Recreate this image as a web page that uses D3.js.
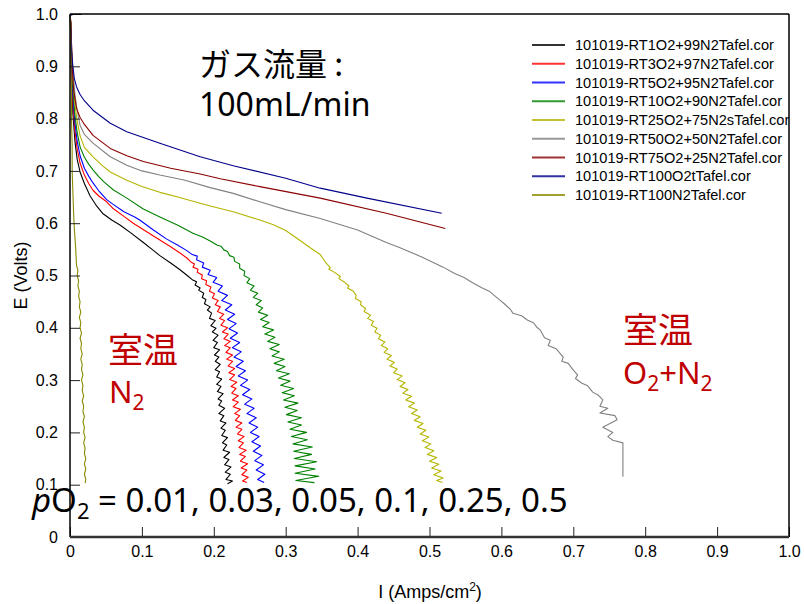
<!DOCTYPE html>
<html>
<head>
<meta charset="utf-8">
<script src="https://cdn.jsdelivr.net/npm/d3@7"></script>
<style>
  body { margin: 0; background: #fff; }
  svg { display: block; }
</style>
</head>
<body>
<div id="chart"></div>
<script>
// legend names, in drawing order
var seriesNames = [
  "101019-RT1O2+99N2Tafel.cor",
  "101019-RT3O2+97N2Tafel.cor",
  "101019-RT5O2+95N2Tafel.cor",
  "101019-RT10O2+90N2Tafel.cor",
  "101019-RT25O2+75N2sTafel.cor",
  "101019-RT50O2+50N2Tafel.cor",
  "101019-RT75O2+25N2Tafel.cor",
  "101019-RT100O2tTafel.cor",
  "101019-RT100N2Tafel.cor"
];
var seriesColors = ["#000000", "#ff0000", "#0000ff", "#008000", "#b4b400", "#808080", "#8b0000", "#00008b", "#8a8a00"];

var xTickLabels = ["0", "0.1", "0.2", "0.3", "0.4", "0.5", "0.6", "0.7", "0.8", "0.9", "1.0"];
var yTickLabels = ["0", "0.1", "0.2", "0.3", "0.4", "0.5", "0.6", "0.7", "0.8", "0.9", "1.0"];

// [I (A/cm2), E (V)]
var rt1 = [[0.001,0.985],[0.002,0.9],[0.004,0.81],[0.007,0.755],[0.010,0.722],[0.014,0.698],[0.020,0.676],[0.028,0.652],[0.037,0.633],[0.046,0.618],[0.058,0.606],[0.070,0.596],[0.085,0.581],[0.102,0.563],[0.115,0.549],[0.125,0.538],[0.140,0.524],[0.153,0.511],[0.163,0.500],
  [0.170,0.492],[0.176,0.488],[0.174,0.482],[0.181,0.476],[0.179,0.472],[0.186,0.466],[0.184,0.458],[0.189,0.454],[0.187,0.446],[0.195,0.440],[0.191,0.434],[0.197,0.428],[0.194,0.418],[0.202,0.414],[0.196,0.404],[0.203,0.399],[0.198,0.392],[0.206,0.386],[0.199,0.376],[0.205,0.372],[0.200,0.362],[0.208,0.358],[0.201,0.348],[0.207,0.344],[0.202,0.336],[0.209,0.330],[0.202,0.320],[0.208,0.316],[0.204,0.306],[0.211,0.302],[0.204,0.292],[0.210,0.288],[0.205,0.278],[0.213,0.274],[0.206,0.264],[0.211,0.260],[0.207,0.252],[0.215,0.246],[0.207,0.236],[0.214,0.232],[0.209,0.222],[0.217,0.218],[0.210,0.208],[0.216,0.204],[0.211,0.194],[0.219,0.190],[0.212,0.180],[0.218,0.176],[0.213,0.166],[0.222,0.162],[0.214,0.152],[0.221,0.148],[0.215,0.138],[0.224,0.134],[0.216,0.124],[0.223,0.120],[0.217,0.110],[0.226,0.107],[0.219,0.102]];

var rt3 = [[0.001,0.985],[0.002,0.91],[0.004,0.83],[0.007,0.775],[0.010,0.742],[0.014,0.715],[0.020,0.692],[0.026,0.676],[0.032,0.663],[0.040,0.652],[0.051,0.641],[0.060,0.628],[0.075,0.613],[0.088,0.600],[0.105,0.585],[0.125,0.568],[0.140,0.555],[0.153,0.543],[0.163,0.533],
  [0.168,0.526],[0.173,0.522],[0.171,0.516],[0.178,0.512],[0.177,0.506],[0.184,0.501],[0.183,0.494],[0.190,0.490],[0.189,0.483],[0.196,0.478],[0.194,0.470],[0.201,0.465],[0.198,0.457],[0.206,0.452],[0.202,0.444],[0.209,0.440],[0.205,0.431],[0.214,0.426],[0.208,0.418],[0.215,0.414],[0.210,0.405],[0.219,0.400],[0.212,0.392],[0.220,0.388],[0.214,0.379],[0.223,0.374],[0.215,0.366],[0.223,0.362],[0.217,0.353],[0.226,0.348],[0.218,0.340],[0.226,0.336],[0.220,0.327],[0.229,0.322],[0.221,0.314],[0.229,0.310],[0.222,0.301],[0.232,0.296],[0.224,0.288],[0.231,0.284],[0.225,0.275],[0.234,0.270],[0.226,0.262],[0.234,0.258],[0.227,0.249],[0.237,0.244],[0.229,0.236],[0.236,0.232],[0.230,0.223],[0.239,0.218],[0.231,0.210],[0.239,0.206],[0.233,0.197],[0.242,0.192],[0.234,0.184],[0.241,0.180],[0.235,0.171],[0.245,0.166],[0.236,0.158],[0.244,0.154],[0.237,0.145],[0.247,0.140],[0.238,0.132],[0.246,0.128],[0.239,0.119],[0.248,0.114],[0.240,0.107],[0.246,0.104]];

var rt5 = [[0.001,0.985],[0.002,0.92],[0.004,0.845],[0.007,0.79],[0.010,0.757],[0.014,0.729],[0.020,0.705],[0.026,0.690],[0.032,0.677],[0.040,0.662],[0.051,0.645],[0.060,0.636],[0.075,0.622],[0.090,0.612],[0.097,0.606],[0.115,0.588],[0.134,0.570],[0.150,0.558],[0.162,0.548],
  [0.170,0.540],[0.177,0.537],[0.176,0.530],[0.186,0.524],[0.184,0.516],[0.195,0.510],[0.192,0.502],[0.204,0.496],[0.199,0.487],[0.212,0.480],[0.206,0.470],[0.219,0.462],[0.211,0.452],[0.225,0.444],[0.216,0.434],[0.229,0.426],[0.219,0.416],[0.231,0.408],[0.221,0.398],[0.233,0.390],[0.223,0.380],[0.236,0.372],[0.226,0.362],[0.238,0.354],[0.228,0.344],[0.241,0.336],[0.231,0.326],[0.244,0.318],[0.234,0.308],[0.247,0.300],[0.237,0.290],[0.250,0.282],[0.240,0.272],[0.253,0.264],[0.243,0.254],[0.256,0.246],[0.246,0.236],[0.259,0.228],[0.249,0.218],[0.261,0.210],[0.251,0.200],[0.263,0.192],[0.253,0.182],[0.265,0.174],[0.255,0.164],[0.267,0.156],[0.257,0.146],[0.269,0.138],[0.259,0.128],[0.271,0.120],[0.261,0.110],[0.270,0.104]];

var rt10 = [[0.001,0.985],[0.002,0.93],[0.004,0.86],[0.007,0.805],[0.010,0.773],[0.014,0.746],[0.020,0.726],[0.026,0.713],[0.032,0.702],[0.040,0.689],[0.048,0.678],[0.060,0.664],[0.079,0.648],[0.102,0.627],[0.125,0.612],[0.150,0.596],[0.171,0.581],[0.185,0.573],[0.195,0.566],
  [0.205,0.558],[0.210,0.556],[0.214,0.549],[0.219,0.546],[0.222,0.538],[0.228,0.535],[0.229,0.527],[0.236,0.522],[0.236,0.514],[0.243,0.508],[0.242,0.500],[0.250,0.494],[0.246,0.486],[0.256,0.480],[0.251,0.472],[0.261,0.466],[0.255,0.458],[0.266,0.452],[0.259,0.444],[0.268,0.438],[0.262,0.430],[0.275,0.424],[0.265,0.416],[0.277,0.410],[0.268,0.402],[0.283,0.396],[0.271,0.388],[0.285,0.382],[0.275,0.374],[0.291,0.368],[0.278,0.360],[0.291,0.354],[0.281,0.346],[0.298,0.340],[0.284,0.332],[0.299,0.326],[0.287,0.318],[0.305,0.312],[0.290,0.304],[0.306,0.298],[0.293,0.290],[0.311,0.284],[0.295,0.276],[0.312,0.270],[0.297,0.262],[0.317,0.256],[0.299,0.248],[0.316,0.242],[0.301,0.234],[0.322,0.228],[0.303,0.220],[0.322,0.214],[0.306,0.206],[0.329,0.200],[0.308,0.192],[0.330,0.186],[0.310,0.178],[0.337,0.172],[0.311,0.164],[0.336,0.158],[0.312,0.150],[0.343,0.144],[0.313,0.136],[0.341,0.130],[0.313,0.122],[0.346,0.116],[0.314,0.108],[0.340,0.104]];

var rt25 = [[0.001,0.985],[0.002,0.94],[0.004,0.88],[0.007,0.825],[0.010,0.795],[0.014,0.767],[0.020,0.745],[0.032,0.727],[0.045,0.710],[0.056,0.698],[0.079,0.682],[0.100,0.670],[0.125,0.659],[0.150,0.650],[0.181,0.638],[0.195,0.633],[0.227,0.622],[0.264,0.606],[0.283,0.597],[0.300,0.586],[0.320,0.567],[0.335,0.552],[0.348,0.540],
  [0.352,0.532],[0.356,0.524],[0.362,0.515],[0.360,0.512],[0.368,0.506],[0.376,0.498],[0.374,0.494],[0.382,0.487],[0.388,0.480],[0.386,0.476],[0.394,0.470],[0.398,0.462],[0.397,0.456],[0.405,0.450],[0.404,0.444],[0.411,0.437],[0.409,0.431],[0.418,0.424],[0.414,0.418],[0.422,0.412],[0.419,0.405],[0.427,0.399],[0.424,0.392],[0.432,0.386],[0.429,0.379],[0.438,0.373],[0.433,0.366],[0.442,0.360],[0.437,0.353],[0.447,0.347],[0.441,0.340],[0.451,0.334],[0.445,0.327],[0.455,0.321],[0.450,0.314],[0.462,0.308],[0.455,0.301],[0.466,0.295],[0.459,0.288],[0.470,0.282],[0.463,0.275],[0.475,0.269],[0.467,0.262],[0.479,0.256],[0.471,0.249],[0.483,0.243],[0.475,0.236],[0.487,0.230],[0.479,0.223],[0.491,0.217],[0.483,0.210],[0.495,0.204],[0.487,0.197],[0.499,0.191],[0.490,0.184],[0.502,0.178],[0.494,0.171],[0.506,0.165],[0.497,0.158],[0.510,0.152],[0.500,0.145],[0.513,0.139],[0.503,0.132],[0.516,0.126],[0.506,0.119],[0.519,0.113],[0.510,0.108],[0.518,0.104]];

var rt50 = [[0.001,0.985],[0.002,0.945],[0.004,0.89],[0.007,0.845],[0.010,0.815],[0.014,0.787],[0.020,0.770],[0.032,0.753],[0.056,0.727],[0.079,0.711],[0.100,0.700],[0.125,0.692],[0.160,0.682],[0.195,0.668],[0.227,0.657],[0.264,0.641],[0.300,0.626],[0.348,0.609],[0.400,0.587],[0.440,0.563],[0.459,0.553],[0.490,0.535],[0.519,0.516],[0.535,0.504],[0.548,0.496],[0.560,0.486],[0.572,0.477],[0.583,0.470],[0.590,0.462],[0.598,0.453],[0.604,0.446],[0.612,0.436],[0.616,0.428],[0.628,0.423],[0.636,0.415],[0.645,0.409],[0.650,0.400],[0.654,0.396],[0.660,0.381],[0.668,0.376],[0.665,0.366],[0.676,0.360],[0.686,0.344],[0.684,0.336],[0.693,0.332],[0.700,0.319],[0.706,0.310],[0.703,0.303],[0.712,0.294],[0.720,0.289],[0.727,0.277],[0.735,0.271],[0.741,0.262],[0.737,0.250],[0.748,0.246],[0.737,0.237],[0.758,0.232],[0.761,0.224],[0.741,0.210],[0.755,0.200],[0.748,0.192],[0.755,0.185],[0.769,0.180],[0.769,0.115]];

var rt75 = [[0.001,0.99],[0.002,0.95],[0.003,0.90],[0.005,0.855],[0.009,0.820],[0.014,0.802],[0.019,0.791],[0.032,0.768],[0.056,0.743],[0.079,0.729],[0.102,0.718],[0.140,0.705],[0.181,0.694],[0.209,0.685],[0.264,0.670],[0.348,0.648],[0.440,0.619],[0.522,0.590]];

var rt100 = [[0.016,0.999],[0.004,0.999],[0.000,0.997],[0.001,0.97],[0.002,0.93],[0.004,0.90],[0.006,0.877],[0.009,0.861],[0.014,0.846],[0.019,0.836],[0.032,0.816],[0.056,0.791],[0.079,0.775],[0.125,0.753],[0.181,0.727],[0.227,0.710],[0.300,0.686],[0.348,0.667],[0.413,0.648],[0.517,0.619]];

var rtN2 = [[0.000,0.998],[0.001,0.95],[0.001,0.90],[0.002,0.85],[0.002,0.80],[0.003,0.75],[0.003,0.70],[0.004,0.66],[0.005,0.62],[0.006,0.59],[0.008,0.55],[0.009,0.52],
  [0.011,0.51],[0.010,0.50],[0.012,0.49],[0.011,0.48],[0.013,0.47],[0.012,0.46],[0.014,0.45],[0.013,0.44],[0.015,0.43],[0.013,0.42],[0.015,0.41],[0.014,0.40],[0.016,0.39],[0.014,0.38],[0.016,0.37],[0.015,0.36],[0.017,0.35],[0.015,0.34],[0.017,0.33],[0.016,0.32],[0.018,0.31],[0.016,0.30],[0.018,0.29],[0.017,0.28],[0.019,0.27],[0.017,0.26],[0.019,0.25],[0.018,0.24],[0.020,0.23],[0.018,0.22],[0.020,0.21],[0.019,0.20],[0.021,0.19],[0.019,0.18],[0.021,0.17],[0.020,0.16],[0.022,0.15],[0.020,0.14],[0.022,0.13],[0.020,0.12],[0.022,0.11],[0.021,0.103]];

var seriesData = [rt1, rt3, rt5, rt10, rt25, rt50, rt75, rt100, rtN2];

// set the dimensions of the graph
var width = 804,
    height = 604;

var svg = d3.select("#chart")
  .append("svg")
    .attr("width", width)
    .attr("height", height);

var x = d3.scaleLinear().domain([0, 1]).range([70, 789]);
var y = d3.scaleLinear().domain([0, 1]).range([537, 14]);

var tickFont = "'Liberation Sans', Arial, sans-serif";

// curves first, frame and axes go on top
var line = d3.line()
  .x(function(d) { return x(d[0]); })
  .y(function(d) { return y(d[1]); });

svg.append("g")
  .selectAll("path")
  .data(seriesData)
  .enter()
  .append("path")
    .attr("d", line)
    .attr("fill", "none")
    .attr("stroke", function(d, i) { return seriesColors[i]; })
    .attr("stroke-width", 1.1)
    .attr("stroke-linejoin", "round");

// x axis, ticks pointing inward
var xAxis = svg.append("g")
  .attr("transform", "translate(0," + y(0) + ")")
  .call(d3.axisBottom(x)
    .tickValues(d3.range(xTickLabels.length).map(function(i) { return i / 10; }))
    .tickFormat(function(d, i) { return xTickLabels[i]; })
    .tickSize(-10)
    .tickSizeOuter(0)
    .tickPadding(9));

xAxis.select(".domain").remove();
xAxis.selectAll("text")
  .style("font-family", tickFont)
  .style("font-size", "16px")
  .attr("fill", "#000");
xAxis.selectAll(".tick line").attr("stroke", "#222");

// y axis
var yAxis = svg.append("g")
  .attr("transform", "translate(" + x(0) + ",0)")
  .call(d3.axisLeft(y)
    .tickValues(d3.range(yTickLabels.length).map(function(i) { return i / 10; }))
    .tickFormat(function(d, i) { return yTickLabels[i]; })
    .tickSize(-10)
    .tickSizeOuter(0)
    .tickPadding(12));

yAxis.select(".domain").remove();
yAxis.selectAll("text")
  .style("font-family", tickFont)
  .style("font-size", "16px")
  .attr("fill", "#000");
yAxis.selectAll(".tick line").attr("stroke", "#222");

// frame
svg.append("line")
  .attr("x1", x(0)).attr("x2", x(1)).attr("y1", y(1)).attr("y2", y(1))
  .attr("stroke", "#000").attr("stroke-width", 1.5);
svg.append("line")
  .attr("x1", x(1)).attr("x2", x(1)).attr("y1", y(1)).attr("y2", y(0))
  .attr("stroke", "#000").attr("stroke-width", 1.5);
svg.append("line")
  .attr("x1", x(0)).attr("x2", x(0)).attr("y1", y(1)).attr("y2", y(0))
  .attr("stroke", "#000").attr("stroke-width", 1.5);
svg.append("line")
  .attr("x1", x(0)).attr("x2", x(1)).attr("y1", y(0)).attr("y2", y(0))
  .attr("stroke", "#333").attr("stroke-width", 2.5);

// axis titles
svg.append("text")
  .attr("transform", "translate(27," + y(0.5) + ") rotate(-90)")
  .attr("text-anchor", "middle")
  .style("font-family", tickFont)
  .style("font-size", "18px")
  .text("E (Volts)");

var xTitle = svg.append("text")
  .attr("x", 430)
  .attr("y", 598)
  .attr("text-anchor", "middle")
  .style("font-family", tickFont)
  .style("font-size", "18px");
xTitle.append("tspan").text("I (Amps/cm");
xTitle.append("tspan").attr("dy", -7).style("font-size", "12px").text("2");
xTitle.append("tspan").attr("dy", 7).text(")");

// legend
var legend = svg.append("g")
  .selectAll("g")
  .data(seriesNames)
  .enter()
  .append("g")
    .attr("transform", function(d, i) { return "translate(532," + (45 + i * 18.75) + ")"; });

legend.append("line")
  .attr("x1", 0).attr("x2", 33)
  .attr("stroke", function(d, i) { return seriesColors[i]; })
  .attr("stroke-width", 1.8)
  .attr("opacity", 0.8);

legend.append("text")
  .attr("x", 43)
  .attr("y", 5)
  .style("font-family", tickFont)
  .style("font-size", "14.6px")
  .text(function(d) { return d; });

// annotations
var jpFont = "'Noto Sans CJK JP', 'Noto Sans', sans-serif";

svg.append("text")
  .attr("x", 199).attr("y", 76)
  .style("font-family", jpFont)
  .style("font-size", "32px")
  .text("ガス流量 :");

svg.append("text")
  .attr("x", 199).attr("y", 116)
  .style("font-family", "'Noto Sans', sans-serif")
  .style("font-size", "32px")
  .text("100mL/min");

svg.append("text")
  .attr("x", 108).attr("y", 363)
  .attr("fill", "#c00000")
  .style("font-family", jpFont)
  .style("font-size", "35px")
  .text("室温");

var n2 = svg.append("text")
  .attr("x", 109).attr("y", 403)
  .attr("fill", "#c00000")
  .style("font-family", "'Noto Sans', sans-serif")
  .style("font-size", "31px");
n2.append("tspan").text("N");
n2.append("tspan").attr("dy", 7).style("font-size", "21px").text("2");

svg.append("text")
  .attr("x", 623).attr("y", 343)
  .attr("fill", "#c00000")
  .style("font-family", jpFont)
  .style("font-size", "35px")
  .text("室温");

var o2n2 = svg.append("text")
  .attr("x", 623).attr("y", 384)
  .attr("fill", "#c00000")
  .style("font-family", "'Noto Sans', sans-serif")
  .style("font-size", "31px");
o2n2.append("tspan").text("O");
o2n2.append("tspan").attr("dy", 7).style("font-size", "21px").text("2");
o2n2.append("tspan").attr("dy", -7).text("+N");
o2n2.append("tspan").attr("dy", 7).style("font-size", "21px").text("2");

var po2 = svg.append("text")
  .attr("x", 32).attr("y", 512)
  .style("font-family", "'Noto Sans', sans-serif")
  .style("font-size", "33px");
po2.append("tspan").style("font-style", "italic").text("p");
po2.append("tspan").text("O");
po2.append("tspan").attr("dy", 7).style("font-size", "22px").text("2");
po2.append("tspan").attr("dy", -7).text(" = 0.01, 0.03, 0.05, 0.1, 0.25, 0.5");
</script>
</body>
</html>
